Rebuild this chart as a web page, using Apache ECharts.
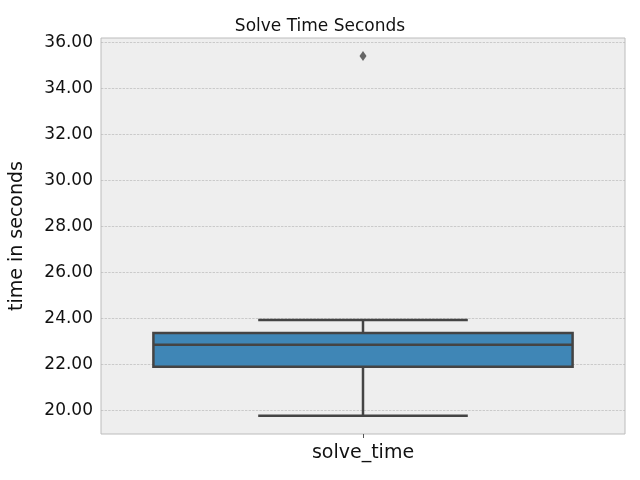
<!DOCTYPE html>
<html lang="en">
<head>
    <meta charset="UTF-8">
    <title>Solve Time Seconds</title>
    <style>
        * { margin: 0; }
        html, body, #chart { width: 100%; height: 100%; background: #fff; }
    </style>
</head>
<body>
    <div id="chart"></div>
    <script src="https://cdn.jsdelivr.net/npm/echarts@6/dist/echarts.min.js"></script>
    <script>
        var categories = ['solve_time'];
        // [low whisker, q1, median, q3, high whisker]
        var boxStats = [[19.75, 21.88, 22.84, 23.35, 23.92]];
        var outliers = [[0, 35.4]];
        var yTicks = [20, 22, 24, 26, 28, 30, 32, 34, 36];

        var chart = echarts.init(document.getElementById('chart'));

        function renderBox(params, api) {
            var x = api.value(0);
            var lo = api.coord([x, api.value(1)]);
            var q1 = api.coord([x, api.value(2)]);
            var med = api.coord([x, api.value(3)]);
            var q3 = api.coord([x, api.value(4)]);
            var hi = api.coord([x, api.value(5)]);
            var band = api.size([1, 0])[0];
            var bw = band * 0.8, cw = band * 0.4;
            var cx = lo[0];
            var ls = { stroke: '#444444', lineWidth: 2.5 };
            return {
                type: 'group',
                children: [
                    { type: 'line', shape: { x1: cx, y1: q1[1], x2: cx, y2: lo[1] }, style: ls },
                    { type: 'line', shape: { x1: cx, y1: q3[1], x2: cx, y2: hi[1] }, style: ls },
                    { type: 'line', shape: { x1: cx - cw / 2, y1: lo[1], x2: cx + cw / 2, y2: lo[1] }, style: ls },
                    { type: 'line', shape: { x1: cx - cw / 2, y1: hi[1], x2: cx + cw / 2, y2: hi[1] }, style: ls },
                    { type: 'rect', shape: { x: cx - bw / 2, y: q3[1], width: bw, height: q1[1] - q3[1] },
                      style: { fill: '#3f86b6', stroke: '#444444', lineWidth: 2.5 } },
                    { type: 'line', shape: { x1: cx - bw / 2, y1: med[1], x2: cx + bw / 2, y2: med[1] }, style: ls }
                ]
            };
        }

        var option = {
            backgroundColor: '#ffffff',
            title: {
                text: 'Solve Time Seconds', left: 'center', top: 13,
                textStyle: { fontSize: 17, fontWeight: 'normal', color: '#111', fontFamily: 'DejaVu Sans' }
            },
            grid: {
                left: 101, right: 15, top: 38, bottom: 46,
                show: true, backgroundColor: '#eeeeee', borderColor: '#bcbcbc', borderWidth: 1
            },
            xAxis: {
                type: 'category', data: categories,
                axisLine: { show: false },
                axisTick: { show: true, alignWithLabel: true, length: 4, lineStyle: { color: '#555' } },
                axisLabel: { fontSize: 19, color: '#111', fontFamily: 'DejaVu Sans', margin: 10 },
                splitLine: { show: false }
            },
            yAxis: {
                type: 'value', min: 18.96, max: 36.18,
                name: 'time in seconds', nameLocation: 'middle', nameGap: 74,
                nameTextStyle: { fontSize: 19, color: '#111', fontFamily: 'DejaVu Sans' },
                axisLine: { show: false },
                axisTick: { show: false, customValues: yTicks },
                axisLabel: {
                    customValues: yTicks, fontSize: 17, color: '#111', fontFamily: 'DejaVu Sans',
                    formatter: function (v) { return v.toFixed(2); }
                },
                splitLine: { show: true, lineStyle: { color: '#b2b2b2', type: 'dashed', width: 0.6 } }
            },
            series: [
                {
                    type: 'custom', renderItem: renderBox,
                    data: boxStats.map(function (s, i) { return [i].concat(s); }),
                    encode: { x: 0, y: [1, 2, 3, 4, 5] }
                },
                {
                    type: 'scatter', data: outliers, symbol: 'diamond', symbolSize: [7, 10],
                    itemStyle: { color: '#444444' }
                }
            ]
        };
        chart.setOption(option);
    </script>
</body>
</html>
